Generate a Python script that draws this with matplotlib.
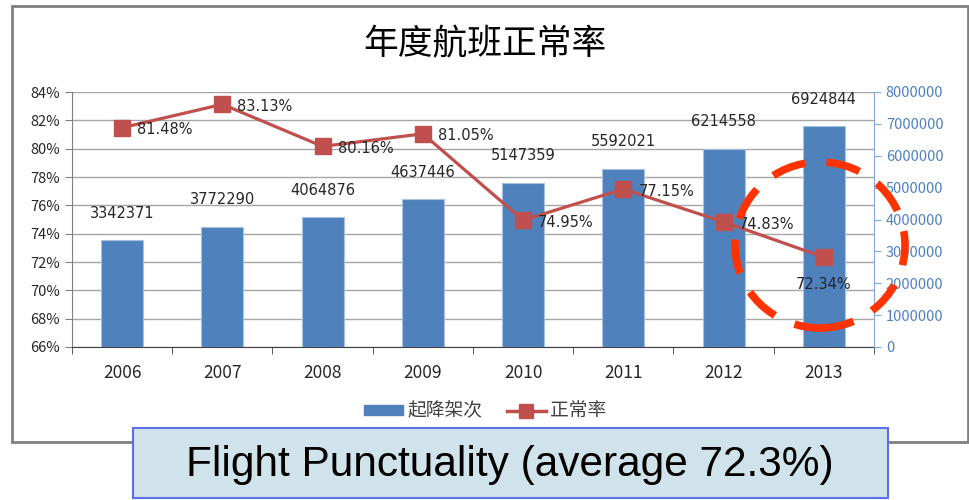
import matplotlib.pyplot as plt
from matplotlib.patches import Rectangle, Ellipse, Patch
from matplotlib.lines import Line2D
from matplotlib.ticker import FuncFormatter, FixedLocator

plt.rcParams['font.family'] = ['Noto Sans CJK SC', 'DejaVu Sans']

# 数据
years = ['2006', '2007', '2008', '2009', '2010', '2011', '2012', '2013']
flights = [3342371, 3772290, 4064876, 4637446, 5147359, 5592021, 6214558, 6924844]
punctuality = [81.48, 83.13, 80.16, 81.05, 74.95, 77.15, 74.83, 72.34]

blue = '#4F81BD'
red = '#C0504D'
txt = '#262626'

fig = plt.figure(figsize=(9.7, 5), dpi=100)

# 外框
fig.patches.append(Rectangle((12 / 970, 1 - 442 / 500), 956 / 970, 436 / 500,
                             transform=fig.transFigure, fill=False,
                             edgecolor='#808080', linewidth=2))

# 左轴 (百分比) 在下层, 网格线画在它上面
ax = fig.add_axes([72 / 970, 1 - 347 / 500, 802 / 970, 255 / 500])
ax2 = ax.twinx()

x = list(range(len(years)))
ax.set_ylim(66, 84)
ax.set_yticks(range(66, 85, 2))
ax.yaxis.set_major_formatter(FuncFormatter(lambda v, p: '%d%%' % v))
ax.set_xlim(-0.5, 7.5)
ax.set_xticks(x)
ax.set_xticklabels(years)
ax.xaxis.set_minor_locator(FixedLocator([i - 0.5 for i in range(len(years) + 1)]))
ax.tick_params(axis='x', which='major', length=0, pad=12, labelsize=12.5, colors=txt)
ax.tick_params(axis='x', which='minor', length=5, color='#404040')
ax.tick_params(axis='y', labelsize=10.5, colors=txt, length=5, color='#808080')
ax.yaxis.grid(True, color='#A6A6A6', linewidth=1)
ax.spines['top'].set_visible(False)
ax.spines['right'].set_visible(False)
ax.spines['left'].set_color('#808080')
ax.spines['bottom'].set_color('#404040')

# 右轴 (起降架次)
ax2.bar(x, flights, width=0.42, color=blue, edgecolor='#A9C1E0', linewidth=0.8,
        zorder=2)
ax2.set_ylim(0, 8000000)
ax2.set_yticks(range(0, 8000001, 1000000))
ax2.yaxis.set_major_formatter(FuncFormatter(lambda v, p: '%d' % v))
ax2.tick_params(axis='y', colors='#86A7D6', labelcolor='#4F81BD', labelsize=10.5,
                length=5)
ax2.spines['right'].set_color('#86A7D6')
ax2.spines['top'].set_visible(False)
ax2.spines['left'].set_visible(False)
ax2.spines['bottom'].set_visible(False)
for i, v in enumerate(flights):
    ax2.text(i, v + 850000, str(v), ha='center', va='center', fontsize=10.5,
             color=txt, family='DejaVu Sans')

# 正常率折线 (按左轴坐标画在柱子上方)
ax2.plot(x, punctuality, color=red, linewidth=2.3, marker='s', markersize=11,
         transform=ax.transData, zorder=3)
for i, v in enumerate(punctuality):
    if i == len(punctuality) - 1:
        ax2.text(i, v - 1.9, '%.2f%%' % v, ha='center', va='center', fontsize=10.5,
                 color=txt, family='DejaVu Sans', transform=ax.transData, zorder=4)
    else:
        ax2.text(i + 0.15, v - 0.15, '%.2f%%' % v, ha='left', va='center',
                 fontsize=10.5, color=txt, family='DejaVu Sans',
                 transform=ax.transData, zorder=4)

fig.text(0.5, 1 - 45 / 500, '年度航班正常率', ha='center', va='center', fontsize=25,
         color='black')

# 图例
handles = [Patch(color=blue, label='起降架次'),
           Line2D([], [], color=red, linewidth=2.5, marker='s', markersize=10,
                  label='正常率')]
fig.legend(handles=handles, loc='center', bbox_to_anchor=(0.5, 1 - 411 / 500),
           ncol=2, frameon=False, fontsize=13.5, handlelength=2.1, handleheight=0.5,
           columnspacing=1.3, handletextpad=0.2, labelcolor='#404040')

# 红色虚线圈
ax2.add_patch(Ellipse((820, 255), 170, 166, transform=None, fill=False,
                      edgecolor='#FF3300', linewidth=5.5, linestyle=(0, (4.5, 2.8)),
                      zorder=5, clip_on=False))

# 底部说明框
fig.patches.append(Rectangle((133 / 970, 1 - 498 / 500), 755 / 970, 70 / 500,
                             transform=fig.transFigure, facecolor='#D0E2EA',
                             edgecolor='#5B6FE8', linewidth=1.5))
fig.text(510 / 970, 1 - 465 / 500, 'Flight Punctuality (average 72.3%)',
         ha='center', va='center', fontsize=30.5, color='black',
         family='Liberation Sans')

fig.savefig('out.png', dpi=100)
